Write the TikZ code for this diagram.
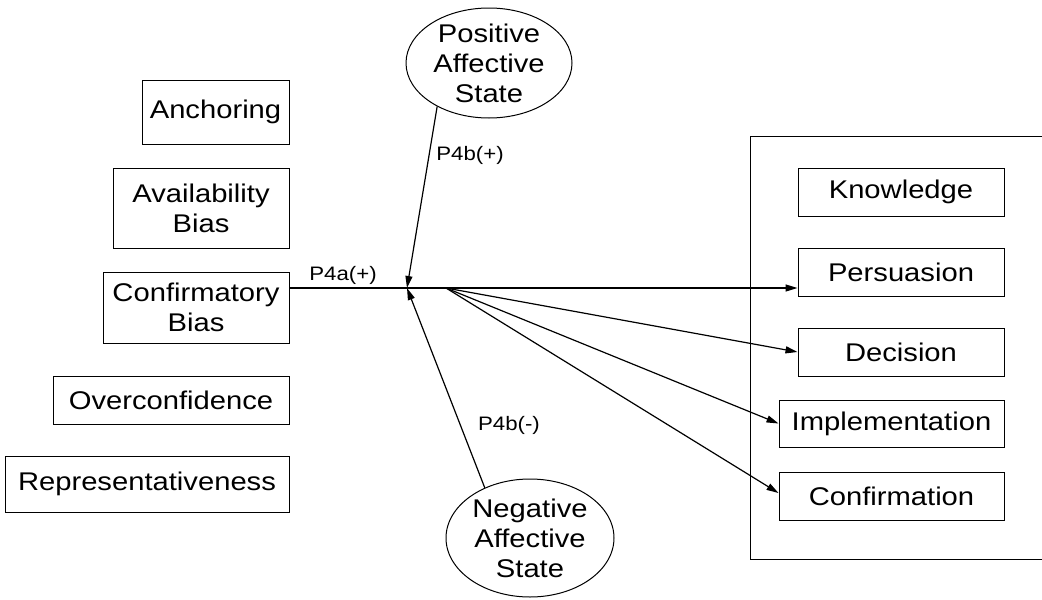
\documentclass[tikz,border=0pt]{standalone}
\usepackage{fontspec}
\setmainfont{Liberation Sans}[FakeStretch=1.14]
\usetikzlibrary{arrows.meta,shapes.geometric}
\begin{document}
\begin{tikzpicture}[x=1pt,y=-1pt,
  box/.style={draw, line width=1pt, inner sep=0pt, align=center,
              font=\fontsize{25.6}{30}\selectfont},
  blob/.style={draw, ellipse, line width=1pt, inner sep=0pt},
  blobtext/.style={align=center, font=\fontsize{25.6}{30}\selectfont},
  tag/.style={font=\fontsize{19.5}{22}\selectfont, inner sep=0pt},
  link/.style={line width=1.2pt},
  arr/.style={link, -{Triangle[length=12pt,width=7pt]}}]
\useasboundingbox (0,0) rectangle (1042,600);

% heuristics and biases
\node[box, minimum width=147pt, minimum height=64pt] (anch) at (215.5,112) {Anchoring};
\node[box, minimum width=176pt, minimum height=80pt] (avail) at (201,208) {Availability\\Bias};
\node[box, minimum width=186pt, minimum height=71pt] (conf) at (196,307.5) {Confirmatory\\Bias};
\node[box, minimum width=236pt, minimum height=48pt] (over) at (171,400) {Overconfidence};
\node[box, minimum width=284pt, minimum height=56pt] (repr) at (147,484) {Representativeness};

% affective states
\node[blob, minimum width=166pt, minimum height=110pt,
      label={[blobtext]center:Positive\\Affective\\State}] (pos) at (489,63) {};
\node[blob, minimum width=168pt, minimum height=118pt,
      label={[blobtext]center:Negative\\Affective\\State}] (neg) at (530,538) {};

% innovation-decision stages
\draw[line width=1pt] (1042,136) -- (750,136) -- (750,559) -- (1042,559);
\node[box, minimum width=206pt, minimum height=48pt] (know) at (901,192) {Knowledge};
\node[box, minimum width=206pt, minimum height=48pt] (pers) at (901,272) {Persuasion};
\node[box, minimum width=206pt, minimum height=48pt] (deci) at (901,352) {Decision};
\node[box, minimum width=225pt, minimum height=47pt] (impl) at (891.5,423.5) {Implementation};
\node[box, minimum width=225pt, minimum height=48pt] (cnfm) at (891.5,496) {Confirmation};

% junction points
\coordinate (hub) at (407,288);
\coordinate (fan) at (446,288);

% connectors
\draw[arr] (conf.east |- hub) -- (pers.west |- hub);
\draw[arr] (fan) -- (deci.west);
\draw[arr] (fan) -- (impl.west);
\draw[arr] (fan) -- (cnfm.west |- 0,493);
\draw[arr] (pos.220) -- (hub);
\draw[arr] (neg.132) -- (hub);

% labels
\node[tag] (la) at (343,275) {P4a(+)};
\node[tag] (lb) at (470,155) {P4b(+)};
\node[tag] (lc) at (509,425) {P4b(-)};
\end{tikzpicture}
\end{document}
